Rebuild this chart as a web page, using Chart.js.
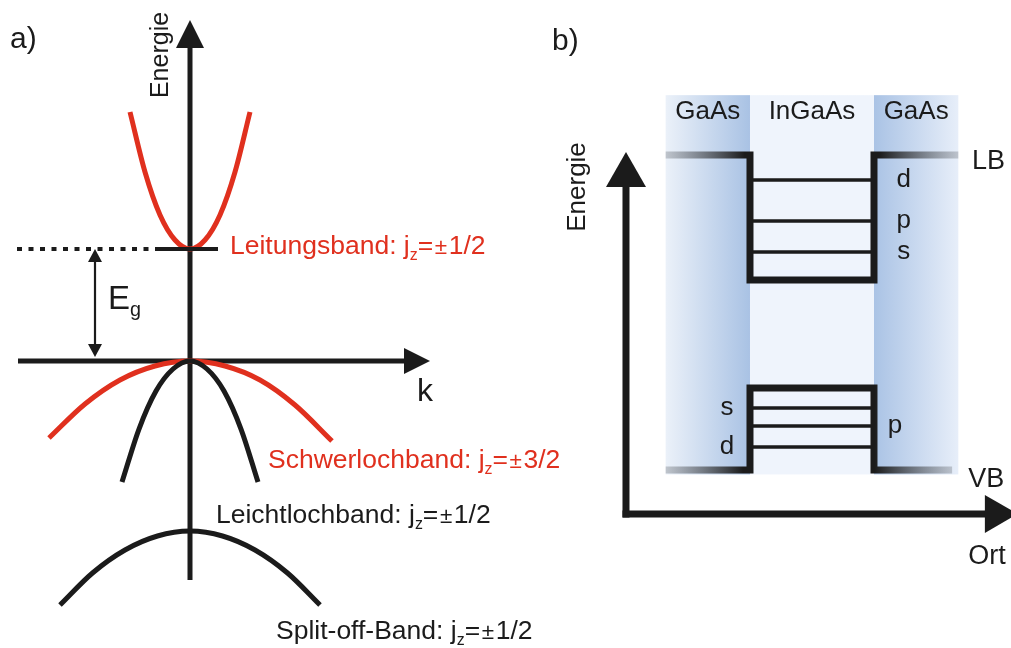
<!DOCTYPE html>
<html>
<head>
<meta charset="utf-8">
<script src="https://cdn.jsdelivr.net/npm/chart.js"></script>
<style>
  html, body { margin: 0; padding: 0; background: #fff; }
  #wrap { position: relative; width: 1011px; height: 648px; }
</style>
</head>
<body>
<div id="wrap"><canvas id="bands" width="1011" height="648"></canvas></div>
<script>
// ---- panel a: E(k) near k = 0 (valence band top = 0, arbitrary units) ----
const kCond  = [-0.6, -0.45, -0.3, -0.15, 0, 0.15, 0.3, 0.45, 0.6];
const eCond  = [2.49, 1.89, 1.46, 1.21, 1.12, 1.21, 1.46, 1.89, 2.49];
const kHeavy = [-1.41, -1.05, -0.7, -0.35, 0, 0.35, 0.7, 1.05, 1.42];
const eHeavy = [-0.77, -0.43, -0.19, -0.05, 0, -0.05, -0.19, -0.44, -0.80];
const kLight = [-0.68, -0.51, -0.34, -0.17, 0, 0.17, 0.34, 0.51, 0.68];
const eLight = [-1.21, -0.68, -0.30, -0.08, 0, -0.08, -0.30, -0.68, -1.21];
const kSplit = [-1.3, -0.975, -0.65, -0.325, 0, 0.325, 0.65, 0.975, 1.3];
const eSplit = [-2.44, -2.12, -1.89, -1.75, -1.70, -1.75, -1.89, -2.12, -2.44];
const gapEnergy = 1.12;

// ---- panel b: GaAs / InGaAs / GaAs quantum well (Ort vs Energie) ----
const layerNames = ['GaAs', 'InGaAs', 'GaAs'];
const layerEdges = [1.6, 5.0, 10.0, 13.4];
const layerTop = 1.69, layerBottom = -0.02;
const lbBarrier = 1.42, vbBarrier = 0;
const lbWell = 0.857, vbWell = 0.37;
const lbLevels = [1.307, 1.123, 0.983];
const lbLevelNames = ['d', 'p', 's'];
const vbLevels = [0.28, 0.198, 0.104];
const vbLevelNames = ['s', 'p', 'd'];

const ink = '#1b1b1b';
const red = '#e0301e';
const fam = '"Liberation Sans", Arial, Helvetica, sans-serif';

function pts(xs, ys) {
  return xs.map((x, i) => ({ x: x, y: ys[i] }));
}

function curve(xs, ys, color) {
  return {
    data: pts(xs, ys), xAxisID: 'xa', yAxisID: 'ya',
    showLine: true, borderColor: color, borderWidth: 5,
    pointRadius: 0, cubicInterpolationMode: 'monotone', borderCapStyle: 'butt'
  };
}

// grey -> black -> grey stroke for the barrier lines
function barrierStroke(x0, x1) {
  return function (c) {
    const chart = c.chart;
    if (!chart.chartArea) return ink;
    const sx = chart.scales.xb;
    const a = sx.getPixelForValue(x0), b = sx.getPixelForValue(x1);
    const g = chart.ctx.createLinearGradient(a, 0, b, 0);
    g.addColorStop(0, 'rgba(110,115,122,0.35)');
    g.addColorStop(0.27, ink);
    g.addColorStop(0.73, ink);
    g.addColorStop(1, 'rgba(110,115,122,0.35)');
    return g;
  };
}

const datasets = [
  // dotted line at the conduction band edge + short solid piece at k = 0
  { data: [{ x: -1.73, y: gapEnergy }, { x: -0.30, y: gapEnergy }], xAxisID: 'xa', yAxisID: 'ya',
    showLine: true, borderColor: ink, borderWidth: 4, borderDash: [5, 6.5], pointRadius: 0 },
  { data: [{ x: -0.30, y: gapEnergy }, { x: 0.28, y: gapEnergy }], xAxisID: 'xa', yAxisID: 'ya',
    showLine: true, borderColor: ink, borderWidth: 4, pointRadius: 0 },
  curve(kSplit, eSplit, ink),
  curve(kLight, eLight, ink),
  curve(kHeavy, eHeavy, red),
  curve(kCond, eCond, red),
  // quantum well, conduction side
  { data: [{ x: layerEdges[0], y: lbBarrier }, { x: layerEdges[1], y: lbBarrier }, { x: layerEdges[1], y: lbWell },
           { x: layerEdges[2], y: lbWell }, { x: layerEdges[2], y: lbBarrier }, { x: layerEdges[3], y: lbBarrier }],
    xAxisID: 'xb', yAxisID: 'yb', showLine: true, borderWidth: 7, pointRadius: 0,
    borderJoinStyle: 'miter', borderColor: barrierStroke(layerEdges[0], layerEdges[3]) },
  // quantum well, valence side
  { data: [{ x: layerEdges[0], y: vbBarrier }, { x: layerEdges[1], y: vbBarrier }, { x: layerEdges[1], y: vbWell },
           { x: layerEdges[2], y: vbWell }, { x: layerEdges[2], y: vbBarrier }, { x: 13.15, y: vbBarrier }],
    xAxisID: 'xb', yAxisID: 'yb', showLine: true, borderWidth: 7, pointRadius: 0,
    borderJoinStyle: 'miter', borderColor: barrierStroke(layerEdges[0], 13.15) }
];

lbLevels.concat(vbLevels).forEach(function (e) {
  datasets.push({
    data: [{ x: layerEdges[1], y: e }, { x: layerEdges[2], y: e }], xAxisID: 'xb', yAxisID: 'yb',
    showLine: true, borderColor: ink, borderWidth: 3.5, pointRadius: 0
  });
});

function head(ctx, tip, dir, len, half) {
  ctx.beginPath();
  ctx.moveTo(tip[0], tip[1]);
  if (dir === 'up') { ctx.lineTo(tip[0] - half, tip[1] + len); ctx.lineTo(tip[0] + half, tip[1] + len); }
  if (dir === 'down') { ctx.lineTo(tip[0] - half, tip[1] - len); ctx.lineTo(tip[0] + half, tip[1] - len); }
  if (dir === 'right') { ctx.lineTo(tip[0] - len, tip[1] - half); ctx.lineTo(tip[0] - len, tip[1] + half); }
  ctx.closePath();
  ctx.fill();
}

function line(ctx, a, b, w) {
  ctx.lineWidth = w;
  ctx.beginPath();
  ctx.moveTo(a[0], a[1]);
  ctx.lineTo(b[0], b[1]);
  ctx.stroke();
}

// text with a subscript, parts = [[text, kind]], kind: '' | 'sub' | 'small'
function rich(ctx, parts, x, y, size, color) {
  ctx.fillStyle = color;
  ctx.textAlign = 'left';
  ctx.textBaseline = 'middle';
  let cx = x;
  parts.forEach(function (p) {
    let s = size, dy = 0, pad = 0;
    if (p[1] === 'sub') { s = size * 0.6; dy = size * 0.32; }
    if (p[1] === 'small') { s = size * 0.85; dy = size * 0.04; pad = size * 0.06; }
    ctx.font = s + 'px ' + fam;
    ctx.fillText(p[0], cx + pad, y + dy);
    cx += ctx.measureText(p[0]).width + 2 * pad;
  });
}

function jz(name, val) {
  return [[name + ': j', ''], ['z', 'sub'], ['=', ''], ['\u00b1', 'small'], [val, '']];
}

const decor = {
  id: 'decor',
  beforeDatasetsDraw(chart) {
    const ctx = chart.ctx;
    const A = (x, y) => [chart.scales.xa.getPixelForValue(x), chart.scales.ya.getPixelForValue(y)];
    const B = (x, y) => [chart.scales.xb.getPixelForValue(x), chart.scales.yb.getPixelForValue(y)];
    ctx.save();

    // material layers of panel b
    const shades = [['#ebf1f9', '#a9c2e4'], ['#eff4fc', '#eff4fc'], ['#aac3e5', '#e7eef9']];
    for (let i = 0; i < 3; i++) {
      const p0 = B(layerEdges[i], layerTop), p1 = B(layerEdges[i + 1], layerBottom);
      const g = ctx.createLinearGradient(p0[0], 0, p1[0], 0);
      g.addColorStop(0, shades[i][0]);
      g.addColorStop(1, shades[i][1]);
      ctx.fillStyle = g;
      ctx.fillRect(p0[0], p0[1], p1[0] - p0[0], p1[1] - p0[1]);
    }

    ctx.strokeStyle = ink;
    ctx.fillStyle = ink;
    ctx.lineCap = 'butt';

    // panel a axes
    const eTop = A(0, 3.41), eBot = A(0, -2.19);
    line(ctx, eBot, [eTop[0], eTop[1] + 20], 5);
    head(ctx, eTop, 'up', 28, 14);
    const kL = A(-1.72, 0), kR = A(2.40, 0);
    line(ctx, kL, [kR[0] - 20, kR[1]], 5);
    head(ctx, kR, 'right', 26, 13);

    // band gap arrow
    const gT = A(-0.95, gapEnergy), gB = A(-0.95, 0.04);
    line(ctx, [gT[0], gT[1] + 8], [gB[0], gB[1] - 8], 2.2);
    head(ctx, gT, 'up', 13, 7);
    head(ctx, gB, 'down', 13, 7);

    // panel b axes
    const o = B(0, -0.198), yTip = B(0, 1.434), xTip = B(15.8, -0.198);
    line(ctx, [o[0], o[1] + 3.5], [yTip[0], yTip[1] + 25], 7);
    head(ctx, yTip, 'up', 35, 20);
    line(ctx, [o[0] - 3.5, o[1]], [xTip[0] - 25, xTip[1]], 7);
    head(ctx, xTip, 'right', 33, 19);
    ctx.restore();
  },
  afterDatasetsDraw(chart) {
    const ctx = chart.ctx;
    const A = (x, y) => [chart.scales.xa.getPixelForValue(x), chart.scales.ya.getPixelForValue(y)];
    const B = (x, y) => [chart.scales.xb.getPixelForValue(x), chart.scales.yb.getPixelForValue(y)];
    ctx.save();
    ctx.textBaseline = 'middle';

    function txt(s, p, size, align) {
      ctx.fillStyle = ink;
      ctx.font = size + 'px ' + fam;
      ctx.textAlign = align || 'center';
      ctx.fillText(s, p[0], p[1]);
    }
    function vtxt(s, p, size) {
      ctx.save();
      ctx.translate(p[0], p[1]);
      ctx.rotate(-Math.PI / 2);
      txt(s, [0, 0], size);
      ctx.restore();
    }

    // panel a
    txt('a)', A(-1.80, 3.21), 30, 'left');
    vtxt('Energie', A(-0.29, 3.06), 25);
    txt('k', A(2.35, -0.31), 32);
    let p = A(-0.82, 0.61);
    rich(ctx, [['E', ''], ['g', 'sub']], p[0], p[1], 33, ink);
    p = A(0.40, 1.14);
    rich(ctx, jz('Leitungsband', '1/2'), p[0], p[1], 26.5, red);
    p = A(0.78, -1.00);
    rich(ctx, jz('Schwerlochband', '3/2'), p[0], p[1], 26.5, red);
    p = A(0.26, -1.55);
    rich(ctx, jz('Leichtlochband', '1/2'), p[0], p[1], 26.5, ink);
    p = A(0.86, -2.71);
    rich(ctx, jz('Split-off-Band', '1/2'), p[0], p[1], 26.5, ink);

    // panel b
    txt('b)', B(-2.98, 1.93), 30, 'left');
    vtxt('Energie', B(-1.94, 1.276), 26);
    layerNames.forEach(function (n, i) {
      txt(n, B((layerEdges[i] + layerEdges[i + 1]) / 2, 1.614), 26);
    });
    lbLevelNames.forEach(function (n, i) { txt(n, B(11.2, lbLevels[i]), 26); });
    txt(vbLevelNames[0], B(4.07, vbLevels[0]), 26);
    txt(vbLevelNames[1], B(10.85, vbLevels[1]), 26);
    txt(vbLevelNames[2], B(4.07, vbLevels[2]), 26);
    txt('LB', B(13.95, 1.389), 27, 'left');
    txt('VB', B(13.8, -0.045), 27, 'left');
    txt('Ort', B(13.8, -0.392), 27, 'left');
    ctx.restore();
  }
};

new Chart(document.getElementById('bands'), {
  type: 'scatter',
  data: { datasets: datasets },
  options: {
    responsive: false,
    animation: false,
    devicePixelRatio: 1,
    events: [],
    layout: { padding: 0 },
    plugins: { legend: { display: false }, tooltip: { enabled: false } },
    scales: {
      xa: { type: 'linear', display: false, min: -1.90, max: 8.21 },
      ya: { type: 'linear', display: false, min: -2.87, max: 3.61 },
      xb: { type: 'linear', display: false, min: -25.24, max: 15.524 },
      yb: { type: 'linear', display: false, min: -0.8025, max: 2.119 }
    }
  },
  plugins: [decor]
});
</script>
</body>
</html>
